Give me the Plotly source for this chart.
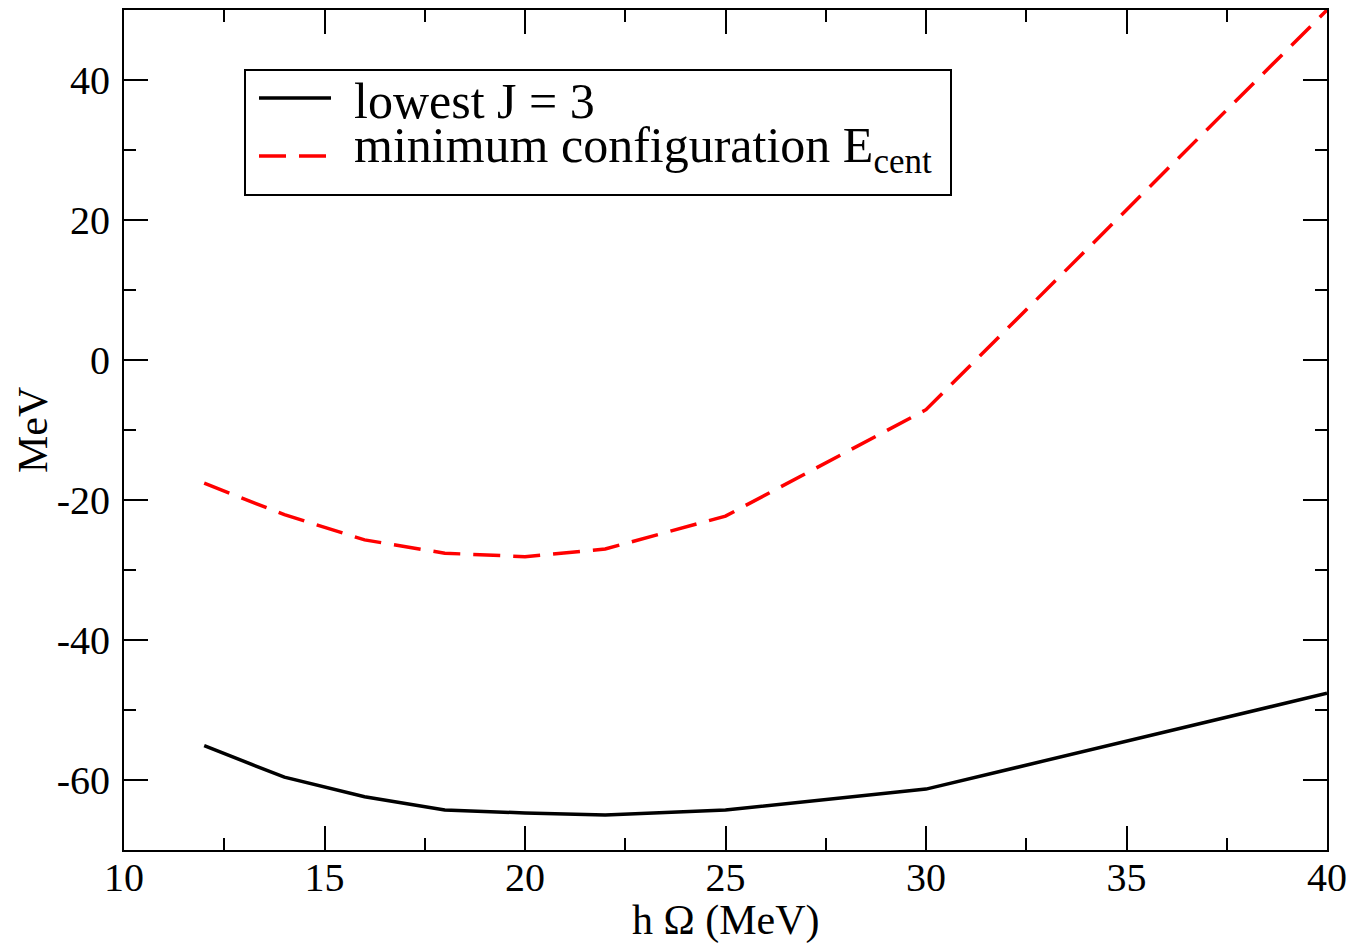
import plotly.graph_objects as go

hw = [12, 14, 16, 18, 20, 22, 25, 30, 40]
lowest_j3 = [-55.1, -59.6, -62.4, -64.3, -64.7, -65.0, -64.3, -61.3, -47.6]
min_config = [-17.6, -22.1, -25.7, -27.6, -28.1, -27.0, -22.3, -7.1, 50.0]

series_names = ["lowest J = 3", "minimum configuration E<sub>cent</sub>"]
series_colors = ["black", "#ff0000"]
series_dashes = ["solid", "27px,13px"]

x_ticks = [10, 15, 20, 25, 30, 35, 40]
x_labels = ["10", "15", "20", "25", "30", "35", "40"]
y_ticks = [-60, -40, -20, 0, 20, 40]
y_labels = ["-60", "-40", "-20", "0", "20", "40"]

FONT = "Liberation Serif, Times New Roman, serif"
W, H = 1354, 943
ML, MR, MT, MB = 124, 27, 10, 93
PW, PH = W - ML - MR, H - MT - MB


def px(xp):
    return (xp - ML) / PW


def py(yp):
    return (H - MB - yp) / PH


fig = go.Figure()
for yv, nm, col, ds in zip([lowest_j3, min_config], series_names, series_colors, series_dashes):
    fig.add_trace(go.Scatter(x=hw, y=yv, mode="lines", name=nm, showlegend=False,
                             line=dict(color=col, width=3.5, dash=ds)))

axis_common = dict(showgrid=False, zeroline=False, showline=True, linecolor="black",
                   linewidth=2, mirror="ticks", ticks="inside", ticklen=24, tickwidth=1.5,
                   tickcolor="black", tickfont=dict(family=FONT, size=40, color="black"),
                   automargin=False,
                   minor=dict(ticks="inside", ticklen=12, tickwidth=1.5, tickcolor="black"))

fig.update_xaxes(range=[10, 40], tickvals=x_ticks, ticktext=x_labels, ticklabelstandoff=-9,
                 minor_dtick=2.5, **axis_common)
fig.update_yaxes(range=[-70, 50], tickvals=y_ticks, ticktext=y_labels, ticklabelstandoff=4,
                 minor_dtick=10, minor_tick0=0, **axis_common)

# legend drawn by hand so sample length and box match
shapes = [dict(type="rect", xref="paper", yref="paper", x0=px(245), x1=px(951), y0=py(195), y1=py(70),
               line=dict(color="black", width=2), fillcolor="white", layer="above")]
annotations = [
    dict(xref="paper", yref="paper", x=px(726), y=py(921), xanchor="center", yanchor="middle",
         text="h Ω (MeV)", showarrow=False, font=dict(family=FONT, size=42, color="black")),
    dict(xref="paper", yref="paper", x=px(33), y=py(430), xanchor="center", yanchor="middle",
         text="MeV", textangle=-90, showarrow=False, font=dict(family=FONT, size=42, color="black")),
]
rows_y = [98, 156]
for ry, col, ds in zip(rows_y, series_colors, series_dashes):
    shapes.append(dict(type="line", xref="paper", yref="paper", x0=px(259), x1=px(331), y0=py(ry), y1=py(ry),
                       line=dict(color=col, width=3.5, dash=ds), layer="above"))
annotations.append(dict(xref="paper", yref="paper", x=px(352), y=py(101), xanchor="left", yanchor="middle",
                        height=44, valign="middle", text=series_names[0], showarrow=False,
                        font=dict(family=FONT, size=50, color="black")))
annotations.append(dict(xref="paper", yref="paper", x=px(352), y=py(115), xanchor="left", yanchor="top",
                        text=series_names[1], showarrow=False,
                        font=dict(family=FONT, size=50, color="black")))

fig.update_layout(
    width=W, height=H,
    margin=dict(l=ML, r=MR, t=MT, b=MB),
    plot_bgcolor="white", paper_bgcolor="white",
    shapes=shapes, annotations=annotations,
)

fig.write_html("out.html")
